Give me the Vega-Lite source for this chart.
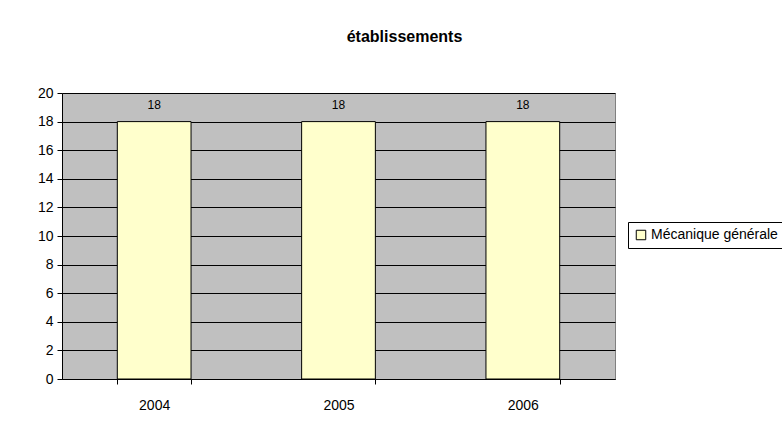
{
  "$schema": "https://vega.github.io/schema/vega-lite/v6.json",
  "width": 553,
  "height": 286,
  "autosize": {"type": "none"},
  "padding": {"left": 62, "top": 93, "right": 167, "bottom": 49},
  "background": "white",
  "title": {
    "text": "établissements",
    "font": "Liberation Sans",
    "fontSize": 16,
    "fontWeight": "bold",
    "color": "black",
    "anchor": "middle",
    "baseline": "bottom",
    "offset": 25,
    "dx": 66
  },
  "data": {
    "values": [
      {"year": "2004", "value": 18, "series": "Mécanique générale"},
      {"year": "2005", "value": 18, "series": "Mécanique générale"},
      {"year": "2006", "value": 18, "series": "Mécanique générale"}
    ]
  },
  "encoding": {
    "x": {
      "field": "year",
      "type": "nominal",
      "title": null,
      "scale": {"paddingInner": 0.6, "paddingOuter": 0.3},
      "axis": {
        "labelAngle": 0,
        "labelFont": "Liberation Sans",
        "labelFontSize": 14,
        "labelColor": "black",
        "domainColor": "black",
        "tickColor": "black",
        "tickSize": 5,
        "tickBand": "extent",
        "labelPadding": 14,
        "grid": false
      }
    },
    "y": {
      "field": "value",
      "type": "quantitative",
      "title": null,
      "scale": {"domain": [0, 20], "nice": false},
      "axis": {
        "values": [0, 2, 4, 6, 8, 10, 12, 14, 16, 18, 20],
        "labelFont": "Liberation Sans",
        "labelFontSize": 14,
        "labelColor": "black",
        "domainColor": "black",
        "tickColor": "black",
        "tickSize": 5,
        "labelPadding": 4,
        "grid": true,
        "gridColor": "black",
        "gridOpacity": 1,
        "gridWidth": 1
      }
    }
  },
  "layer": [
    {
      "mark": {"type": "bar", "stroke": "black", "strokeWidth": 1},
      "encoding": {
        "color": {
          "field": "series",
          "type": "nominal",
          "title": null,
          "scale": {"range": ["#FFFFCC"]},
          "legend": {
            "orient": "none",
            "legendX": 566,
            "legendY": 129,
            "strokeColor": "black",
            "fillColor": "white",
            "padding": 6,
            "labelFont": "Liberation Sans",
            "labelFontSize": 14,
            "labelColor": "black",
            "symbolType": "square",
            "symbolSize": 90,
            "symbolStrokeColor": "black",
            "symbolStrokeWidth": 1,
            "symbolOpacity": 1,
            "labelOffset": 3
          }
        }
      }
    },
    {
      "mark": {
        "type": "text",
        "font": "Liberation Sans",
        "fontSize": 12,
        "color": "black",
        "baseline": "middle",
        "dy": -17
      },
      "encoding": {"text": {"field": "value", "type": "quantitative"}}
    }
  ],
  "config": {
    "view": {"fill": "#C0C0C0", "stroke": "#808080", "strokeWidth": 1}
  }
}
